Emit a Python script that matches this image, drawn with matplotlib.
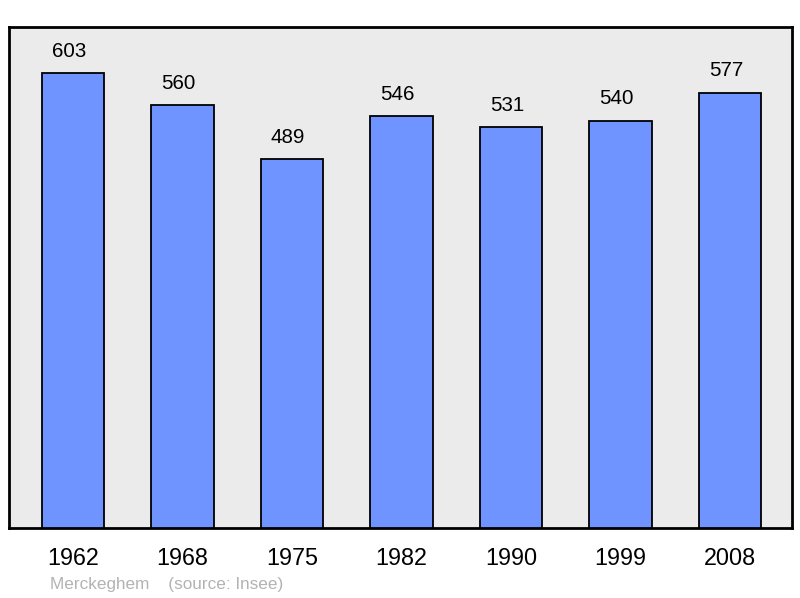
import matplotlib
matplotlib.use("Agg")
import matplotlib.pyplot as plt

years = ["1962", "1968", "1975", "1982", "1990", "1999", "2008"]
population = [603, 560, 489, 546, 531, 540, 577]

plt.rcParams['font.family'] = ['Liberation Sans', 'DejaVu Sans']

W, H = 800, 598
fig = plt.figure(figsize=(W/100, H/100), dpi=100)
ax = fig.add_axes([9/W, (H-528)/H, 783/W, 501/H])
ax.set_facecolor('#ebebeb')

x = list(range(len(years)))
ax.bar(x, population, width=0.57, color='#7094ff', edgecolor='black', linewidth=1.3, zorder=3)
for xi, v in zip(x, population):
    ax.annotate(str(v), (xi, v), xytext=(-2.9, 15.8), textcoords='offset points',
                ha='center', va='center', fontsize=14.8, color='black')

ax.set_xlim(-0.584, 6.566)
ax.set_ylim(0, 664)
ax.set_yticks([])
ax.set_xticks(x)
ax.set_xticklabels(years, fontsize=16.8)
ax.tick_params(axis='x', length=0, pad=14)
for s in ax.spines.values():
    s.set_linewidth(2)
    s.set_color('black')

fig.text(50/W, 1-584/H, "Merckeghem    (source: Insee)", fontsize=12.3, color='#b3b3b3',
         ha='left', va='center')

fig.savefig("out.png", dpi=100)
